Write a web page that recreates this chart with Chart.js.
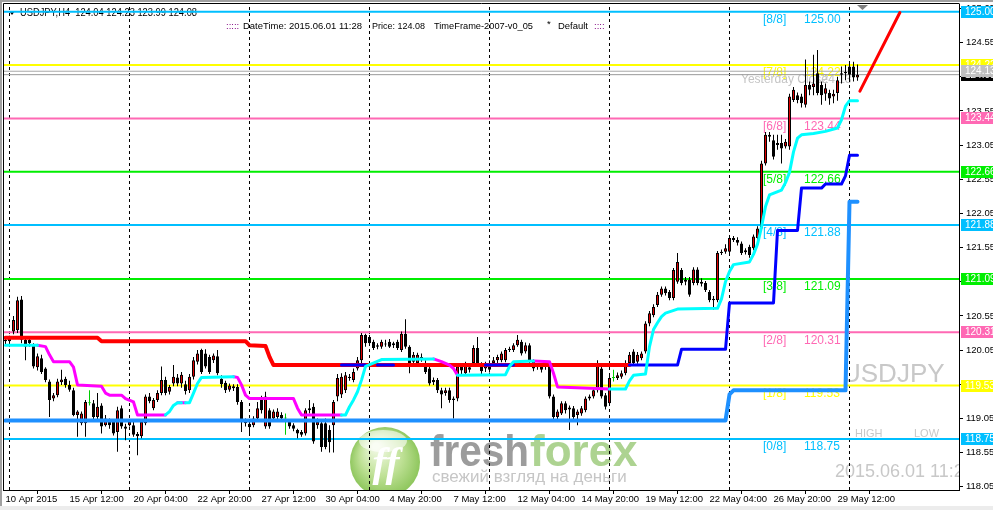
<!DOCTYPE html>
<html lang="en">
<head>
<meta charset="UTF-8">
<title>USDJPY,H4</title>
<script src="https://cdn.jsdelivr.net/npm/chart.js@4.4.1/dist/chart.umd.min.js"></script>
<style>
  html, body { margin: 0; padding: 0; background: #fff; }
</style>
</head>
<body>
<canvas id="chart" width="993" height="510"></canvas>

<script>
// H4 bars, index 0 = 10 Apr 2015 20:00, index 213 = 1 Jun 2015 08:00
const opens = [
  120.20,120.18,120.32,120.34,120.79,120.20,120.20,120.12,119.80,119.93,
  119.78,119.59,119.34,119.39,119.58,119.63,119.54,119.46,119.10,118.98,
  118.98,119.27,119.27,119.07,119.24,118.95,119.00,119.00,118.85,119.20,
  118.93,118.95,118.95,118.82,118.79,118.98,119.37,119.20,119.32,119.42,
  119.61,119.44,119.56,119.65,119.56,119.55,119.46,119.66,119.88,120.05,
  120.00,119.95,119.90,119.96,119.63,119.57,119.47,119.52,119.51,119.29,
  119.00,118.97,118.95,119.05,119.34,118.93,119.17,119.05,119.07,119.10,
  119.05,119.00,118.95,118.88,118.85,118.83,119.17,119.22,118.95,118.98,
  118.98,118.88,118.95,119.37,119.40,119.46,119.66,119.61,119.78,119.90,
  120.27,120.24,120.17,120.10,120.10,120.14,120.17,120.12,120.17,120.05,
  120.29,120.10,119.88,119.86,119.95,119.86,119.78,119.61,119.61,119.46,
  119.42,119.46,119.34,119.34,119.81,119.71,119.80,119.86,120.08,119.83,
  119.78,119.86,119.86,119.90,119.90,119.90,120.05,120.05,120.12,120.17,
  120.03,120.12,119.88,119.80,119.83,119.81,119.81,119.37,119.07,119.12,
  119.27,119.18,119.20,119.10,119.12,119.17,119.34,119.37,119.46,119.78,
  119.39,119.27,119.64,119.64,119.66,119.71,119.86,120.03,119.88,119.93,
  120.03,120.44,120.56,120.71,120.86,120.95,120.90,120.81,121.05,121.22,
  121.05,121.08,121.03,121.23,121.05,121.03,120.90,120.80,120.78,121.47,
  121.49,121.49,121.69,121.66,121.61,121.48,121.56,121.54,121.69,121.83,
  122.78,123.20,123.12,123.05,123.08,123.03,123.03,123.71,123.78,123.76,
  123.64,123.93,123.90,124.10,123.93,123.80,123.81,123.76,123.81,124.08,
  124.10,124.20,124.20,124.04
];
const highs = [
  120.25,120.26,120.55,120.83,120.84,120.24,120.24,120.15,120.00,119.98,
  119.80,119.62,119.42,119.63,119.76,119.66,119.60,119.50,119.17,119.15,
  119.32,119.46,119.32,119.42,119.27,119.10,119.05,119.04,119.22,119.24,
  118.97,119.03,119.00,118.85,119.03,119.40,119.42,119.35,119.46,119.81,
  119.66,119.54,119.83,119.70,119.73,119.60,119.70,119.95,120.05,120.07,
  120.06,119.98,120.00,120.05,119.68,119.60,119.56,119.55,119.55,119.32,
  119.05,119.00,119.08,119.29,119.38,119.44,119.20,119.18,119.20,119.14,
  119.12,119.03,118.98,118.90,118.88,119.20,119.32,119.27,119.05,119.00,
  119.05,118.95,119.32,119.70,119.71,119.73,119.70,119.78,119.95,120.30,
  120.29,120.27,120.20,120.15,120.20,120.20,120.21,120.17,120.20,120.32,
  120.50,120.12,120.02,120.01,120.00,119.90,119.82,119.65,119.64,119.50,
  119.50,119.50,119.37,119.84,119.85,119.88,119.83,120.12,120.24,119.87,
  119.88,119.90,119.95,119.98,120.03,120.08,120.10,120.15,120.27,120.20,
  120.16,120.15,119.91,119.86,119.86,119.88,119.84,119.40,119.18,119.30,
  119.30,119.24,119.23,119.18,119.23,119.37,119.40,119.49,119.90,119.83,
  119.42,119.67,119.76,119.72,119.75,119.90,120.02,120.06,120.02,120.03,
  120.47,120.62,120.72,120.90,120.98,120.98,120.93,121.25,121.47,121.25,
  121.12,121.12,121.26,121.26,121.10,121.06,120.93,120.84,121.50,121.52,
  121.60,121.73,121.72,121.70,121.64,121.54,121.59,121.74,121.86,122.82,
  123.24,123.24,123.20,123.20,123.20,123.14,123.80,123.90,123.82,123.80,
  124.30,123.98,124.37,124.44,123.98,123.95,123.86,123.86,124.05,124.20,
  124.22,124.25,124.27,124.23
];
const lows = [
  120.12,120.10,120.28,120.30,120.15,119.90,120.10,119.78,119.75,119.70,
  119.58,119.07,119.30,119.36,119.54,119.50,119.44,119.08,118.78,118.95,
  118.78,119.24,119.03,119.03,118.83,118.93,118.90,118.80,118.56,118.90,
  118.73,118.93,118.78,118.51,118.76,118.95,119.27,119.17,119.29,119.39,
  119.39,119.40,119.52,119.52,119.50,119.40,119.42,119.62,119.84,119.70,
  119.78,119.70,119.86,119.68,119.50,119.42,119.44,119.45,119.25,118.85,
  118.93,118.81,118.92,119.02,119.12,118.90,118.90,119.00,119.04,119.00,
  118.81,118.90,118.86,118.76,118.78,118.80,119.12,118.68,118.90,118.56,
  118.60,118.55,118.55,119.30,119.35,119.42,119.60,119.58,119.75,119.86,
  120.10,120.12,120.05,120.06,120.07,120.10,120.08,120.08,120.05,120.02,
  120.07,119.71,119.85,119.83,119.88,119.70,119.53,119.54,119.42,119.20,
  119.38,119.28,119.05,119.30,119.70,119.68,119.72,119.82,119.82,119.70,
  119.73,119.72,119.83,119.86,119.87,119.87,120.02,120.02,120.10,119.97,
  120.00,119.86,119.74,119.76,119.72,119.76,119.34,119.03,119.03,119.10,
  119.12,118.88,119.03,118.95,119.09,119.14,119.31,119.34,119.43,119.34,
  119.18,119.24,119.59,119.61,119.63,119.68,119.83,119.83,119.85,119.90,
  120.00,120.40,120.53,120.68,120.83,120.85,120.78,120.78,121.02,121.00,
  121.00,120.83,121.00,121.00,120.98,120.90,120.75,120.64,120.75,121.44,
  121.46,121.46,121.63,121.58,121.44,121.45,121.40,121.51,121.66,121.80,
  122.75,123.10,122.84,122.98,122.78,123.00,122.98,123.68,123.66,123.60,
  123.60,123.78,123.78,123.78,123.64,123.70,123.64,123.66,123.70,123.95,
  124.00,124.00,123.98,123.99
];
const closes = [
  120.18,120.22,120.49,120.78,120.20,120.10,120.15,119.81,119.96,119.73,
  119.61,119.32,119.39,119.59,119.62,119.54,119.47,119.10,119.15,119.12,
  119.29,119.27,119.07,119.22,118.93,119.05,118.95,118.83,119.17,118.93,
  118.90,119.00,118.81,118.79,119.00,119.37,119.30,119.32,119.42,119.61,
  119.42,119.51,119.66,119.56,119.69,119.45,119.66,119.90,120.00,119.73,
  119.81,119.73,119.97,119.71,119.55,119.46,119.53,119.49,119.29,119.02,
  118.98,118.92,119.05,119.20,119.17,119.37,118.93,119.15,119.15,119.05,
  119.05,118.93,118.90,118.83,118.81,119.17,119.20,118.71,119.00,118.63,
  118.63,118.70,119.29,119.64,119.66,119.68,119.64,119.73,119.90,120.27,
  120.15,120.15,120.08,120.12,120.17,120.13,120.10,120.15,120.08,120.29,
  120.10,119.83,119.98,119.98,119.92,119.73,119.56,119.58,119.46,119.40,
  119.46,119.32,119.32,119.81,119.75,119.83,119.76,120.08,119.86,119.74,
  119.82,119.76,119.90,119.95,120.00,120.05,120.07,120.12,120.20,120.00,
  120.12,119.90,119.78,119.83,119.76,119.83,119.37,119.07,119.15,119.27,
  119.17,119.21,119.07,119.15,119.20,119.34,119.37,119.46,119.83,119.37,
  119.22,119.64,119.64,119.68,119.71,119.86,119.98,119.86,119.98,120.00,
  120.44,120.59,120.68,120.86,120.95,120.88,120.81,121.22,121.34,121.03,
  121.08,120.86,121.23,121.03,121.02,120.93,120.78,120.78,121.47,121.49,
  121.54,121.69,121.66,121.62,121.47,121.51,121.44,121.71,121.83,122.78,
  123.20,123.17,122.88,123.08,123.00,123.10,123.76,123.86,123.71,123.66,
  123.93,123.86,123.95,123.81,123.78,123.88,123.73,123.80,124.00,124.10,
  124.12,124.08,124.04,124.08
];

// axis labels
const xLabels = ['10 Apr 2015', '15 Apr 12:00', '20 Apr 04:00', '22 Apr 20:00', '27 Apr 12:00',
  '30 Apr 04:00', '4 May 20:00', '7 May 12:00', '12 May 04:00', '14 May 20:00',
  '19 May 12:00', '22 May 04:00', '26 May 20:00', '29 May 12:00'];
const xLabelBars = [0, 16, 32, 48, 64, 80, 96, 112, 128, 144, 160, 176, 192, 208];
const yTicks = [118.05, 118.55, 119.05, 119.55, 120.05, 120.55, 121.05, 121.55,
  122.05, 122.55, 123.05, 123.55, 124.05, 124.55, 125.05];
const weekStarts = [1, 31, 61, 91, 121, 151, 181, 211];

// Murrey math levels
const mmNames = ['[0/8]', '[1/8]', '[2/8]', '[3/8]', '[4/8]', '[5/8]', '[6/8]', '[7/8]', '[8/8]'];
const mmLevels = [118.75, 119.53, 120.31, 121.09, 121.88, 122.66, 123.44, 124.22, 125.00];
const mmColors = ['#00bfff', '#ffff00', '#ff69b4', '#00ee00', '#00bfff', '#00ee00', '#ff69b4', '#ffff00', '#00bfff'];
const yesterdayClose = 124.13;
const bidPrice = 124.08;

// indicator lines, [bar, price] breakpoints
const redStop = [[0, 120.23], [23, 120.23], [24, 120.18], [60, 120.18], [61, 120.12], [65, 120.11],
  [66, 119.95], [67, 119.83], [156, 119.83]];
const blueStop = [
  [[84, 119.83], [90, 119.83]],
  [[93, 119.83], [97, 119.83]],
  [[120, 119.83], [127, 119.83]],
  [[156, 119.83], [168, 119.83], [169, 120.06], [180, 120.06], [181, 120.74], [192, 120.74],
   [193, 121.80], [198, 121.80], [199, 122.42], [204, 122.42], [205, 122.48], [209, 122.48],
   [210, 122.60], [211, 122.90], [213, 122.90]]
];
const trendUp = [
  [[0, 120.12], [8, 120.12]],
  [[40, 119.10], [41, 119.15], [42, 119.24], [43, 119.28], [44, 119.28]],
  [[45, 119.28], [46, 119.28], [47, 119.42], [48, 119.56], [49, 119.65], [57, 119.66]],
  [[84, 119.10], [85, 119.10], [86, 119.22], [87, 119.32], [88, 119.44], [89, 119.61], [90, 119.81],
   [94, 119.91], [107, 119.92]],
  [[113, 119.68], [125, 119.69], [126, 119.81], [127, 119.88], [132, 119.89]],
  [[151, 119.48], [155, 119.48], [156, 119.60], [157, 119.68], [160, 119.70], [161, 120.10],
   [162, 120.35], [163, 120.45], [164, 120.54], [165, 120.59], [168, 120.65], [178, 120.66],
   [179, 120.80], [180, 121.05], [181, 121.20], [182, 121.30], [186, 121.34], [187, 121.45],
   [188, 121.60], [189, 121.85], [190, 122.15], [191, 122.32], [194, 122.39], [195, 122.50],
   [196, 122.65], [197, 122.95], [198, 123.15], [199, 123.20], [202, 123.22], [205, 123.25],
   [208, 123.30], [209, 123.42], [210, 123.62], [211, 123.70], [213, 123.70]]
];
const trendDown = [
  [[8, 120.12], [10, 120.10], [11, 119.98], [12, 119.88], [16, 119.88], [17, 119.80], [18, 119.54],
   [24, 119.52], [25, 119.42], [26, 119.39], [29, 119.39], [30, 119.34], [32, 119.29], [33, 119.10],
   [40, 119.10]],
  [[43, 119.28], [45, 119.28]],
  [[57, 119.66], [58, 119.65], [59, 119.54], [60, 119.39], [61, 119.34], [72, 119.34], [73, 119.20],
   [74, 119.10], [84, 119.10]],
  [[107, 119.92], [109, 119.88], [111, 119.83], [112, 119.78], [113, 119.68]],
  [[132, 119.89], [136, 119.88], [137, 119.71], [138, 119.51], [151, 119.48]]
];
const supportLine = [[0, 119.02], [180, 119.02], [181, 119.40], [182, 119.46], [210, 119.46],
  [211, 122.22], [213, 122.22]];
const projection = [[213.6, 123.84], [223.6, 124.99]];

const X_MIN = -0.375, X_MAX = 238.375, Y_MIN = 118.002, Y_MAX = 125.114;
const FONT = 'Liberation Sans';

function pts(list) {
  return list.map(p => ({ x: p[0], y: p[1] }));
}
function segPts(segs) {
  const out = [];
  segs.forEach((s, k) => {
    if (k > 0) out.push({ x: s[0][0] - 0.01, y: null });
    s.forEach(p => out.push({ x: p[0], y: p[1] }));
  });
  return out;
}
function lineDs(data, color, width, order, extra) {
  return Object.assign({
    type: 'line', data: data, borderColor: color, borderWidth: width, pointRadius: 0,
    fill: false, tension: 0, spanGaps: false, order: order,
    borderCapStyle: 'round', borderJoinStyle: 'round'
  }, extra || {});
}

const idx = opens.map((_, i) => i);
const isDoji = i => opens[i] === closes[i];

const datasets = [];

// week separators
const sepPts = [];
weekStarts.forEach((b, k) => {
  if (k > 0) sepPts.push({ x: b - 0.5, y: null });
  sepPts.push({ x: b, y: Y_MIN }, { x: b, y: Y_MAX });
});
datasets.push(lineDs(sepPts, '#000', 1, 20, { borderDash: [3, 3], borderCapStyle: 'butt' }));

// murrey lines + yesterday close + bid
mmLevels.forEach((lv, k) => {
  datasets.push(lineDs([{ x: X_MIN, y: lv }, { x: X_MAX, y: lv }], mmColors[k], 2, 15, { borderCapStyle: 'butt' }));
});
datasets.push(lineDs([{ x: X_MIN, y: yesterdayClose }, { x: X_MAX, y: yesterdayClose }], '#a8a8a8', 1, 15));
datasets.push(lineDs([{ x: X_MIN, y: bidPrice }, { x: X_MAX, y: bidPrice }], '#9a9a9a', 1, 15));

// candles: wicks then bodies
datasets.push({
  type: 'bar', order: 12, grouped: false, barThickness: 1, inflateAmount: 0,
  data: idx.map(i => ({ x: i, y: [lows[i], highs[i]] })),
  backgroundColor: idx.map(i => isDoji(i) ? '#00cc00' : '#000'),
  borderWidth: 0
});
datasets.push({
  type: 'bar', order: 11, grouped: false, barThickness: 3, inflateAmount: 0, minBarLength: 1,
  data: idx.map(i => ({ x: i, y: [opens[i], closes[i]] })),
  backgroundColor: idx.map(i => closes[i] > opens[i] ? '#dd0000' : (isDoji(i) ? '#00cc00' : '#000')),
  borderColor: idx.map(i => isDoji(i) ? '#00cc00' : '#000'),
  borderWidth: 1, borderSkipped: false
});

// indicators
datasets.push(lineDs(pts(supportLine), '#1e90ff', 4, 6));
datasets.push(lineDs(pts(redStop), '#ff0000', 4, 5));
datasets.push(lineDs(segPts(blueStop), '#0000ff', 3, 4));
datasets.push(lineDs(segPts(trendDown), '#ff00ff', 3, 3));
datasets.push(lineDs(segPts(trendUp), '#00ffff', 3, 2));
datasets.push(lineDs(pts(projection), '#ff0000', 3, 1));

function drawLogo(c) {
  c.save();
  const g = c.createRadialGradient(376, 446, 3, 385, 462, 36);
  g.addColorStop(0, '#f1f9e4');
  g.addColorStop(0.55, '#bfe196');
  g.addColorStop(1, '#8cc55a');
  c.fillStyle = g;
  c.beginPath(); c.arc(385, 462, 35, 0, Math.PI * 2); c.fill();
  c.fillStyle = 'rgba(255,255,255,0.6)';
  c.beginPath(); c.ellipse(383, 441, 24, 11, 0, 0, Math.PI * 2); c.fill();
  c.fillStyle = '#ffffff';
  c.font = 'italic bold 42px "Liberation Serif"';
  c.textAlign = 'center'; c.textBaseline = 'middle';
  c.fillText('ff', 386, 465);
  c.textAlign = 'left'; c.textBaseline = 'alphabetic';
  c.font = 'bold 44px "' + FONT + '"';
  c.fillStyle = '#9c9c9c';
  c.fillText('fresh', 430, 466, 99);
  c.fillStyle = '#add391';
  c.fillText('forex', 530, 466, 112);
  c.font = '17px "' + FONT + '"';
  c.fillStyle = '#c6c6c6';
  c.fillText('свежий взгляд на деньги', 432, 482, 210);
  c.restore();
}

const overlay = {
  id: 'overlay',
  beforeDraw(chart) {
    const c = chart.ctx;
    c.save();
    c.fillStyle = '#fff'; c.fillRect(0, 0, chart.width, chart.height);
    c.fillStyle = '#a0a0a0'; c.fillRect(0, 0, chart.width, 2); c.fillRect(0, 0, 2, chart.height);
    c.fillStyle = '#ececec'; c.fillRect(0, 506, chart.width, 4);
    c.restore();
  },
  beforeDatasetsDraw(chart) {
    const c = chart.ctx, a = chart.chartArea, ys = chart.scales.y;
    c.save();
    c.beginPath(); c.rect(a.left, a.top, a.right - a.left, a.bottom - a.top); c.clip();
    drawLogo(c);
    c.textBaseline = 'middle'; c.textAlign = 'left';

    // header
    c.fillStyle = '#000';
    c.font = '10px "' + FONT + '"';
    c.fillText('USDJPY,H4  124.04 124.23 123.99 124.08', 20, 13, 177);
    c.beginPath(); c.moveTo(9, 11); c.lineTo(15, 11); c.lineTo(12, 15); c.closePath(); c.fill();

    // info line
    c.font = '9.5px "' + FONT + '"';
    c.fillStyle = '#800080';
    c.fillText(':::::', 226, 26, 16);
    c.fillText('::::', 594, 26, 14);
    c.fillStyle = '#000';
    c.fillText('DateTime: 2015.06.01 11:28', 243, 26, 119);
    c.fillText('Price: 124.08', 372, 26, 53);
    c.fillText('TimeFrame-2007-v0_05', 434, 26, 99);
    c.fillText('*', 547, 24);
    c.fillText('Default', 558, 26, 30);

    // murrey labels
    c.font = '12px "' + FONT + '"';
    mmLevels.forEach((lv, k) => {
      const y = ys.getPixelForValue(lv) + 8;
      c.fillStyle = mmColors[k];
      c.fillText(mmNames[k], 763, y);
      c.fillText(lv.toFixed(2), 804, y);
    });
    c.fillStyle = '#c4c4c4';
    const yc = ys.getPixelForValue(yesterdayClose) + 8;
    c.fillText('Yesterday Close', 741, yc);
    c.fillText(yesterdayClose.toFixed(2), 815, yc);

    // symbol watermark
    c.fillStyle = '#c8c8c8';
    c.font = '26px "' + FONT + '"';
    c.fillText('USDJPY', 842, 375);
    c.font = '11px "' + FONT + '"';
    c.fillText('HIGH', 855, 434);
    c.fillText('LOW', 914, 434);
    c.font = '18px "' + FONT + '"';
    c.fillText('2015.06.01 11:28', 835, 472);
    c.restore();
  },
  afterDraw(chart) {
    const c = chart.ctx, a = chart.chartArea, ys = chart.scales.y;
    c.save();
    // chart frame
    c.strokeStyle = '#000'; c.lineWidth = 1;
    c.beginPath();
    c.moveTo(3.5, 491); c.lineTo(3.5, 3.5); c.lineTo(a.right + 0.5, 3.5);
    c.stroke();
    // shift marker
    c.fillStyle = '#808080';
    c.beginPath(); c.moveTo(857, 5); c.lineTo(868, 5); c.lineTo(862.5, 10); c.closePath(); c.fill();

    // price boxes on the right axis
    c.font = '10px "' + FONT + '"';
    c.textBaseline = 'middle'; c.textAlign = 'left';
    const box = (v, bg) => {
      const y = Math.round(ys.getPixelForValue(v));
      c.fillStyle = bg; c.fillRect(961, y - 6, 32, 12);
      c.fillStyle = '#fff'; c.fillText(v.toFixed(2), 965, y);
    };
    mmLevels.forEach((lv, k) => box(lv, mmColors[k]));
    box(bidPrice, '#000');
    box(yesterdayClose, '#c0c0c0');
    c.restore();
  }
};

Chart.defaults.font.family = FONT;

new Chart(document.getElementById('chart'), {
  type: 'line',
  data: { datasets: datasets },
  options: {
    responsive: false,
    animation: false,
    events: [],
    layout: { padding: { left: 4, top: 4, right: 0, bottom: 0 } },
    plugins: { legend: { display: false }, tooltip: { enabled: false } },
    scales: {
      x: {
        type: 'linear', position: 'bottom', min: X_MIN, max: X_MAX, offset: false,
        grid: { display: true, drawOnChartArea: false, drawTicks: true, tickLength: 4, color: '#000' },
        border: { display: true, color: '#000' },
        ticks: {
          autoSkip: false, maxRotation: 0, minRotation: 0, align: 'start', padding: 0,
          color: '#000', font: { family: FONT, size: 9.5 },
          callback: (v, i) => xLabels[i]
        },
        afterBuildTicks: s => { s.ticks = xLabelBars.map(v => ({ value: v })); },
        afterFit: s => { s.height = 20; s.paddingLeft = 0; s.paddingRight = 0; }
      },
      y: {
        type: 'linear', position: 'right', min: Y_MIN, max: Y_MAX, beginAtZero: false,
        grid: { display: true, drawOnChartArea: false, drawTicks: true, tickLength: 4, color: '#000' },
        border: { display: true, color: '#000' },
        ticks: {
          padding: 3, color: '#000', font: { family: FONT, size: 9.5 },
          callback: v => Number(v).toFixed(2)
        },
        afterBuildTicks: s => { s.ticks = yTicks.map(v => ({ value: v })); },
        afterFit: s => { s.width = 34; s.paddingTop = 0; s.paddingBottom = 0; }
      }
    }
  },
  plugins: [overlay]
});
</script>
</body>
</html>
